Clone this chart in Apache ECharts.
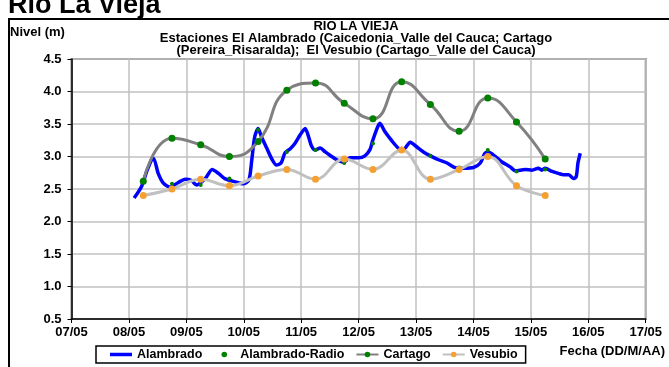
<!DOCTYPE html>
<html><head><meta charset="utf-8">
<script src="https://cdn.jsdelivr.net/npm/echarts@6/dist/echarts.min.js"></script>
<style>html,body{margin:0;padding:0;background:#fff;overflow:hidden}#c{width:669px;height:367px}</style>
</head><body><div id="c"></div>
<script>
// Tick labels of the date axis (x = days since 07/05 00:00)
const xTickLabels = ['07/05','08/05','09/05','10/05','11/05','12/05','13/05','14/05','15/05','16/05','17/05'];

// Alambrado (continuous record)
const alambradoDays = [1.09,1.22,1.31,1.40,1.43,1.51,1.60,1.72,1.86,1.98,2.09,2.18,2.33,2.45,2.56,2.67,2.85,2.99,3.09,3.14,3.19,3.25,3.31,3.40,3.49,3.57,3.65,3.72,3.81,3.89,3.98,4.07,4.13,4.18,4.24,4.33,4.42,4.50,4.62,4.74,4.85,5.00,5.11,5.20,5.24,5.32,5.37,5.46,5.58,5.69,5.78,5.90,6.01,6.13,6.25,6.39,6.54,6.68,6.83,7.00,7.12,7.20,7.26,7.38,7.49,7.64,7.73,7.90,8.02,8.13,8.19,8.25,8.37,8.48,8.57,8.66,8.74,8.79,8.82,8.86];
const alambradoLevels = [2.36,2.54,2.77,2.96,2.97,2.74,2.59,2.53,2.60,2.65,2.63,2.56,2.66,2.80,2.74,2.66,2.61,2.58,2.64,2.95,3.30,3.43,3.30,3.13,2.96,2.87,2.90,3.06,3.12,3.20,3.33,3.43,3.30,3.16,3.10,3.13,3.07,3.02,2.95,2.91,2.98,2.98,3.01,3.11,3.23,3.43,3.51,3.38,3.24,3.13,3.11,3.22,3.15,3.07,3.01,2.95,2.90,2.83,2.82,2.83,2.90,3.05,3.07,3.00,2.92,2.84,2.78,2.80,2.79,2.82,2.79,2.82,2.77,2.74,2.72,2.72,2.66,2.69,2.90,3.05];

// Twice-daily readings (06:00 and 18:00)
const sampleDays = [1.25,1.75,2.25,2.75,3.25,3.75,4.25,4.75,5.25,5.75,6.25,6.75,7.25,7.75,8.25];
const radioLevels   = [2.62,2.58,2.56,2.66,3.41,3.07,3.10,2.90,3.20,3.12,3.01,2.83,3.10,2.77,2.80];
const cartagoLevels = [2.62,3.28,3.18,3.00,3.23,4.02,4.13,3.82,3.58,4.15,3.80,3.39,3.90,3.53,2.96];
const vesubioLevels = [2.40,2.50,2.65,2.55,2.70,2.80,2.65,2.96,2.80,3.10,2.65,2.80,3.00,2.55,2.40];

const seriesNames = ['Alambrado','Alambrado-Radio','Cartago','Vesubio'];

const FONT = 'Liberation Sans, Arial, sans-serif';
const pair = (xs, ys) => xs.map((x, i) => [x, ys[i]]);

const chart = echarts.init(document.getElementById('c'), null, {renderer: 'canvas'});
chart.setOption({
  animation: false,
  backgroundColor: '#fff',
  textStyle: {fontFamily: FONT},
  graphic: [
    {type: 'rect', shape: {x: 9, y: 19, width: 700, height: 400}, style: {fill: 'none', stroke: '#000', lineWidth: 2}, silent: true, z: 0},
    {type: 'text', x: 8, y: -8, style: {text: 'Rio La Vieja', font: 'bold 27px ' + FONT, fill: '#000', verticalAlign: 'top'}},
    {type: 'text', x: 10, y: 26, style: {text: 'Nivel (m)', font: 'bold 13px ' + FONT, fill: '#000', verticalAlign: 'top'}},
    {type: 'text', x: 356, y: 19.5, style: {text: 'RIO LA VIEJA', font: 'bold 13px ' + FONT, fill: '#000', align: 'center', verticalAlign: 'top'}},
    {type: 'text', x: 356, y: 31.5, style: {text: 'Estaciones El Alambrado (Caicedonia_Valle del Cauca; Cartago', font: 'bold 13px ' + FONT, fill: '#000', align: 'center', verticalAlign: 'top'}},
    {type: 'text', x: 356, y: 43.5, style: {text: '(Pereira_Risaralda);  El Vesubio (Cartago_Valle del Cauca)', font: 'bold 13px ' + FONT, fill: '#000', align: 'center', verticalAlign: 'top'}},
    {type: 'text', x: 665, y: 345, style: {text: 'Fecha (DD/M/AA)', font: 'bold 13px ' + FONT, fill: '#000', align: 'right', verticalAlign: 'top'}}
  ],
  grid: {left: 71.5, right: 23.3, top: 59, bottom: 48, show: true, borderColor: '#808080', borderWidth: 2, backgroundColor: 'transparent'},
  legend: {
    data: [
      {name: seriesNames[0], icon: 'path://M0,0L22,0L22,3.5L0,3.5Z'},
      {name: seriesNames[1]},
      {name: seriesNames[2]},
      {name: seriesNames[3]}
    ],
    left: 96, top: 346,
    padding: [2, 8, 2, 14],
    itemWidth: 22, itemHeight: 7, itemGap: 11,
    borderColor: '#000', borderWidth: 1.5,
    textStyle: {fontFamily: FONT, fontWeight: 'bold', fontSize: 12.5, color: '#000'}
  },
  xAxis: {
    type: 'value', min: 0, max: 10, interval: 1,
    axisLine: {show: true, lineStyle: {color: '#000', width: 1.5}},
    axisTick: {show: true, length: 4, lineStyle: {color: '#000', width: 1}},
    splitLine: {show: true, lineStyle: {color: '#c0c0c0', width: 1.5}},
    axisLabel: {color: '#000', fontWeight: 'bold', fontSize: 13, fontFamily: FONT, margin: 7,
      formatter: v => xTickLabels[Math.round(v)] || ''}
  },
  yAxis: {
    type: 'value', min: 0.5, max: 4.5, interval: 0.5,
    axisLine: {show: true, lineStyle: {color: '#000', width: 1.5}},
    axisTick: {show: true, length: 4, lineStyle: {color: '#000', width: 1}},
    splitLine: {show: true, lineStyle: {color: '#c0c0c0', width: 1.5}},
    axisLabel: {color: '#000', fontWeight: 'bold', fontSize: 13, fontFamily: FONT, margin: 10,
      formatter: v => v.toFixed(1)}
  },
  series: [
    {name: seriesNames[0], type: 'line', data: pair(alambradoDays, alambradoLevels), symbol: 'none', smooth: 0.25,
     lineStyle: {color: '#0000ff', width: 3.5}, itemStyle: {color: '#0000ff'}},
    {name: seriesNames[1], type: 'line', data: pair(sampleDays, radioLevels), symbol: 'circle', symbolSize: 4, showSymbol: true,
     lineStyle: {opacity: 0, width: 0}, itemStyle: {color: '#008000'}},
    {name: seriesNames[2], type: 'line', data: pair(sampleDays, cartagoLevels), symbol: 'circle', symbolSize: 7, smooth: 0.5,
     lineStyle: {color: '#808080', width: 3}, itemStyle: {color: '#008000'}},
    {name: seriesNames[3], type: 'line', data: pair(sampleDays, vesubioLevels), symbol: 'circle', symbolSize: 7, smooth: 0.4,
     lineStyle: {color: '#c0c0c0', width: 3}, itemStyle: {color: '#f5a033'}}
  ]
});
</script>
</body></html>
